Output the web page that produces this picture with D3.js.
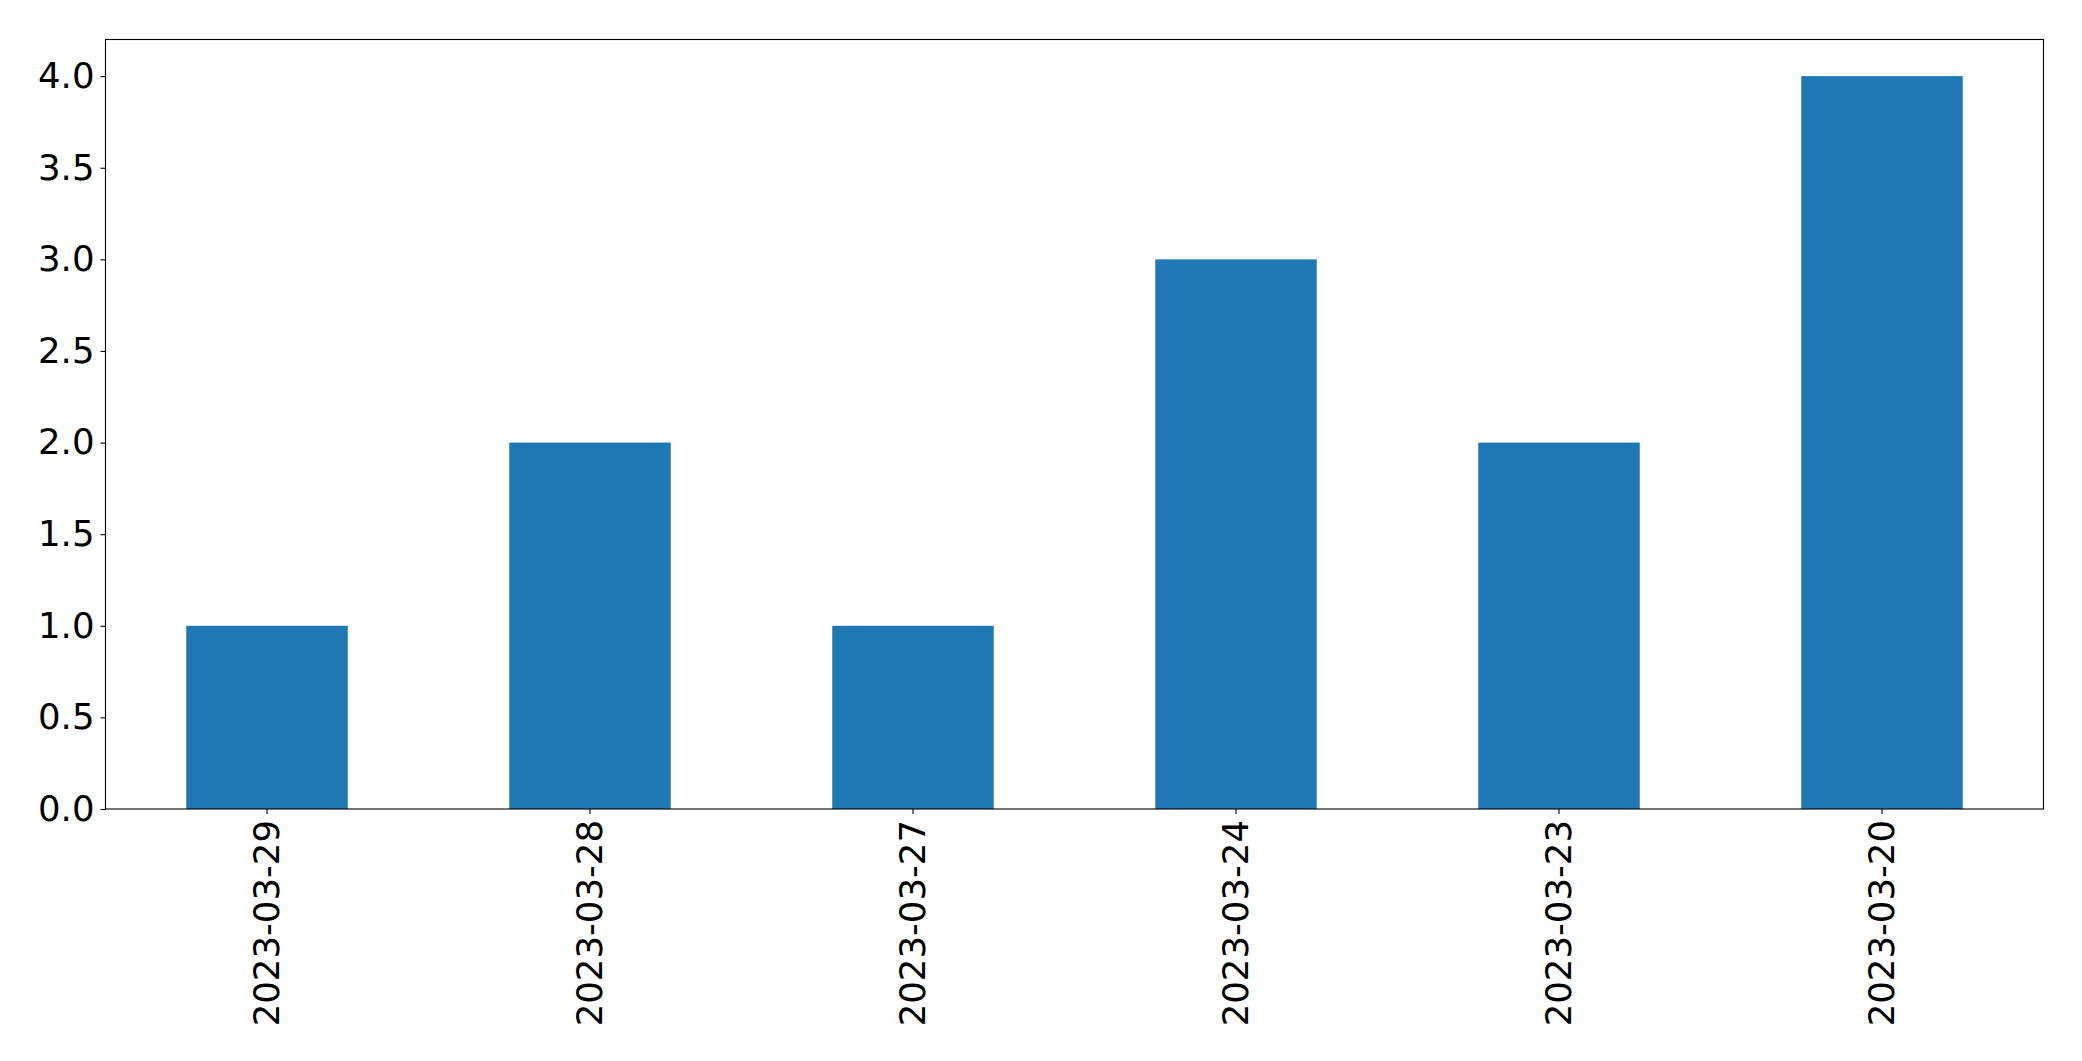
<!DOCTYPE html>
<html>
<head>
<meta charset="utf-8">
<script src="https://cdn.jsdelivr.net/npm/d3@7"></script>
<style>
  html, body { margin: 0; padding: 0; background: #fff; }
  svg { display: block; }
  text { font-family: "DejaVu Sans", sans-serif; }
</style>
</head>
<body>
<script>
const categories = ["2023-03-29", "2023-03-28", "2023-03-27", "2023-03-24", "2023-03-23", "2023-03-20"];
const values = [1, 2, 1, 3, 2, 4];
const yTicks = [0, 0.5, 1.0, 1.5, 2.0, 2.5, 3.0, 3.5, 4.0];

const W = 2082, H = 1061;
const margin = { left: 105.5, top: 39.5, right: W - 2043.5, bottom: H - 809 };
const iw = W - margin.left - margin.right;
const ih = H - margin.top - margin.bottom;
const FS = 35.5;

const svg = d3.select("body").append("svg").attr("width", W).attr("height", H);
const g = svg.append("g").attr("transform", `translate(${margin.left},${margin.top})`);

const x = d3.scaleBand().domain(categories).range([0, iw]).paddingInner(0.5).paddingOuter(0.25);
const y = d3.scaleLinear().domain([0, 4.2]).range([ih, 0]);

g.selectAll("rect.bar").data(categories).join("rect")
  .attr("class", "bar")
  .attr("x", d => x(d))
  .attr("width", x.bandwidth())
  .attr("y", (d, i) => y(values[i]))
  .attr("height", (d, i) => y(0) - y(values[i]))
  .attr("fill", "#1f77b4");

const yAxis = g.append("g")
  .call(d3.axisLeft(y).tickValues(yTicks).tickFormat(d3.format(".1f")).tickSizeOuter(0).tickSize(5).tickPadding(6));
yAxis.select(".domain").remove();
yAxis.selectAll("text").attr("font-size", FS).attr("fill", "#000").attr("font-family", "DejaVu Sans");
yAxis.selectAll("line").attr("stroke", "#000").attr("stroke-width", 1.1);

const xAxis = g.append("g").attr("transform", `translate(0,${ih})`)
  .call(d3.axisBottom(x).tickSizeOuter(0).tickSize(5).tickPadding(6));
xAxis.select(".domain").remove();
xAxis.selectAll("line").attr("stroke", "#000").attr("stroke-width", 1.1);
xAxis.selectAll("text")
  .attr("font-size", FS).attr("fill", "#000").attr("font-family", "DejaVu Sans")
  .attr("text-anchor", "end")
  .attr("dy", "0.35em")
  .attr("transform", "translate(0,11) rotate(-90)")
  .attr("x", 0).attr("y", 0);

g.append("rect")
  .attr("x", 0).attr("y", 0).attr("width", iw).attr("height", ih)
  .attr("fill", "none").attr("stroke", "#000").attr("stroke-width", 1.1);
</script>
</body>
</html>
